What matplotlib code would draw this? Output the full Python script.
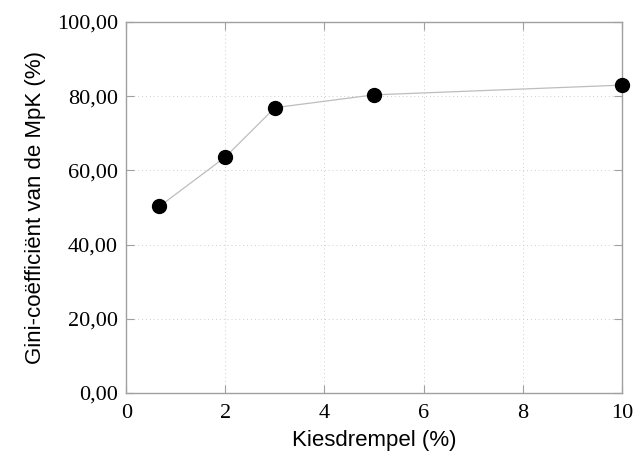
import matplotlib
matplotlib.use('Agg')
import matplotlib.pyplot as plt
from matplotlib.ticker import FuncFormatter

kiesdrempel = [0.67, 2, 3, 5, 10]
gini = [50.3, 63.6, 76.9, 80.35, 82.97]

fig = plt.figure(figsize=(6.41, 4.57), dpi=100)
ax = fig.add_axes([0.197, 0.140, 0.773, 0.812])

ax.plot(kiesdrempel, gini, color='#bdbdbd', linewidth=0.9, zorder=2)
ax.plot(kiesdrempel, gini, 'o', color='black', markersize=10, zorder=3, clip_on=False)

ax.set_xlim(0, 10)
ax.set_ylim(0, 100)
ax.set_xticks([0, 2, 4, 6, 8, 10])
ax.set_yticks([0, 20, 40, 60, 80, 100])
ax.yaxis.set_major_formatter(FuncFormatter(lambda v, p: f'{v:.2f}'.replace('.', ',')))

ax.grid(True, linestyle=(0, (1, 3)), color='#cccccc', linewidth=0.7)
for s in ax.spines.values():
    s.set_color('#a0a0a0')
    s.set_linewidth(1.0)
ax.tick_params(direction='in', top=True, right=True, color='#a0a0a0', length=6, width=0.8,
               labelsize=16, pad=6)
ax.tick_params(axis='x', pad=8)
for lab in ax.get_xticklabels() + ax.get_yticklabels():
    lab.set_family('Liberation Serif')

ax.set_xlabel('Kiesdrempel (%)', family='Liberation Sans', fontsize=16, labelpad=5)
ax.set_ylabel('Gini-coëfficiënt van de MpK (%)', family='Liberation Sans', fontsize=16, labelpad=8)

fig.savefig('out.png', dpi=100)
